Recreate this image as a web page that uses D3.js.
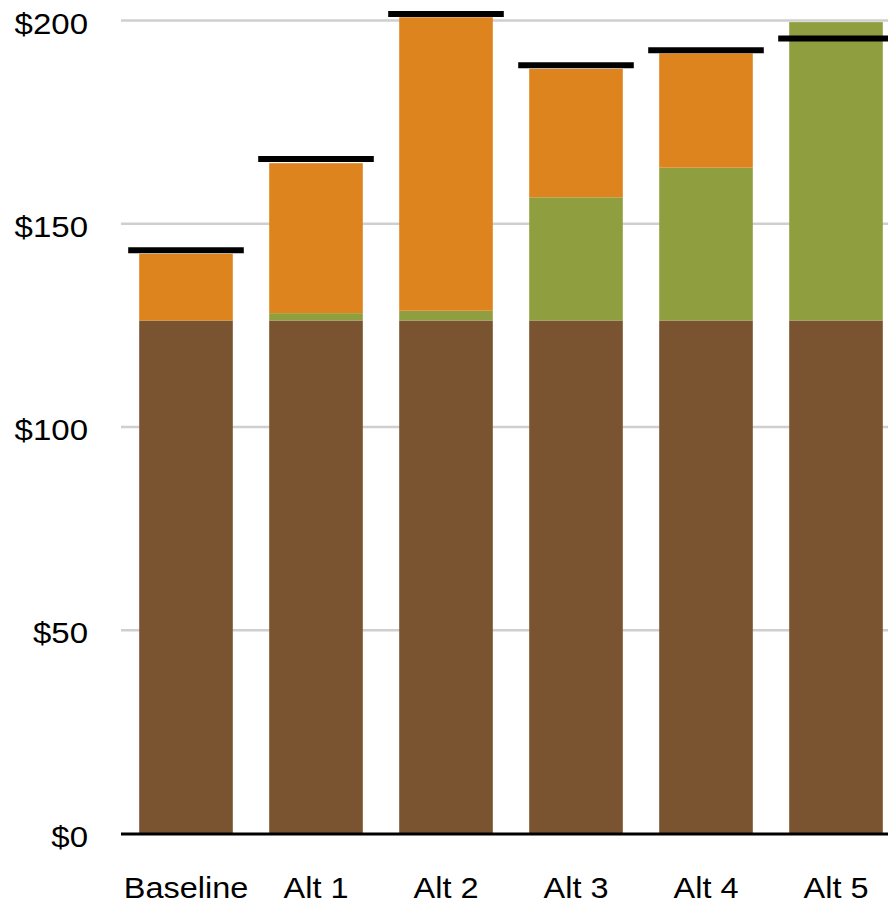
<!DOCTYPE html>
<html>
<head>
<meta charset="utf-8">
<script src="https://cdn.jsdelivr.net/npm/d3@7"></script>
<style>
  html, body { margin: 0; padding: 0; background: #fff; }
  svg { display: block; }
  text { font-family: "Liberation Sans", Arial, sans-serif; fill: #000; }
</style>
</head>
<body>
<svg id="chart" width="888" height="904"></svg>
<script>
// ---- data ----
const categories = ["Baseline", "Alt 1", "Alt 2", "Alt 3", "Alt 4", "Alt 5"];
const seriesNames = ["Base", "Green", "Orange"];
const baseValues   = [126.2, 126.2, 126.2, 126.2, 126.2, 126.2];
const greenValues  = [0, 1.8, 2.4, 30.3, 37.6, 73.4];
const orangeValues = [16.4, 36.9, 72.2, 31.6, 28.1, 0];
const totalMarkers = [143.5, 165.9, 201.6, 189.0, 192.7, 195.6];
const yTicks = [0, 50, 100, 150, 200];
const colors = { Base: "#7a5331", Green: "#8f9e3f", Orange: "#de841f" };

// ---- layout ----
const svg = d3.select("#chart");
const x = d3.scaleBand()
  .domain(categories)
  .range([121, 901])
  .paddingInner(0.28)
  .paddingOuter(0.14);
const y = d3.scaleLinear().domain([0, 200]).range([833.5, 20.5]);
const stretch = 1.1;

// gridlines
svg.append("g").selectAll("line")
  .data(yTicks.filter(d => d > 0))
  .join("line")
  .attr("x1", 121).attr("x2", 888)
  .attr("y1", d => y(d)).attr("y2", d => y(d))
  .attr("stroke", "#cfcfcf").attr("stroke-width", 2.5);

// y tick labels
svg.append("g").selectAll("text")
  .data(yTicks)
  .join("text")
  .attr("transform", d => `translate(88,${y(d) + 13}) scale(${stretch},1)`)
  .attr("text-anchor", "end")
  .attr("font-size", 30)
  .text(d => "$" + d);

// stacked bars
const rows = categories.map((c, i) => ({
  cat: c, Base: baseValues[i], Green: greenValues[i], Orange: orangeValues[i]
}));
const stack = d3.stack().keys(seriesNames)(rows);
svg.append("g").selectAll("g")
  .data(stack)
  .join("g")
  .attr("fill", s => colors[s.key])
  .selectAll("rect")
  .data(s => s)
  .join("rect")
  .attr("x", d => x(d.data.cat))
  .attr("width", x.bandwidth())
  .attr("y", d => y(d[1]))
  .attr("height", d => Math.max(0, y(d[0]) - y(d[1])));

// axis line
svg.append("line")
  .attr("x1", 121).attr("x2", 888)
  .attr("y1", y(0) + 0.5).attr("y2", y(0) + 0.5)
  .attr("stroke", "#000").attr("stroke-width", 3);

// total markers
const ext = 11;
svg.append("g").selectAll("line")
  .data(categories.map((c, i) => ({ cat: c, v: totalMarkers[i] })))
  .join("line")
  .attr("x1", d => x(d.cat) - ext)
  .attr("x2", d => x(d.cat) + x.bandwidth() + ext)
  .attr("y1", d => y(d.v)).attr("y2", d => y(d.v))
  .attr("stroke", "#000").attr("stroke-width", 6);

// x labels
svg.append("g").selectAll("text")
  .data(categories)
  .join("text")
  .attr("transform", d => `translate(${x(d) + x.bandwidth() / 2},897.5) scale(${stretch},1)`)
  .attr("text-anchor", "middle")
  .attr("font-size", 29.5)
  .text(d => d);
</script>
</body>
</html>
